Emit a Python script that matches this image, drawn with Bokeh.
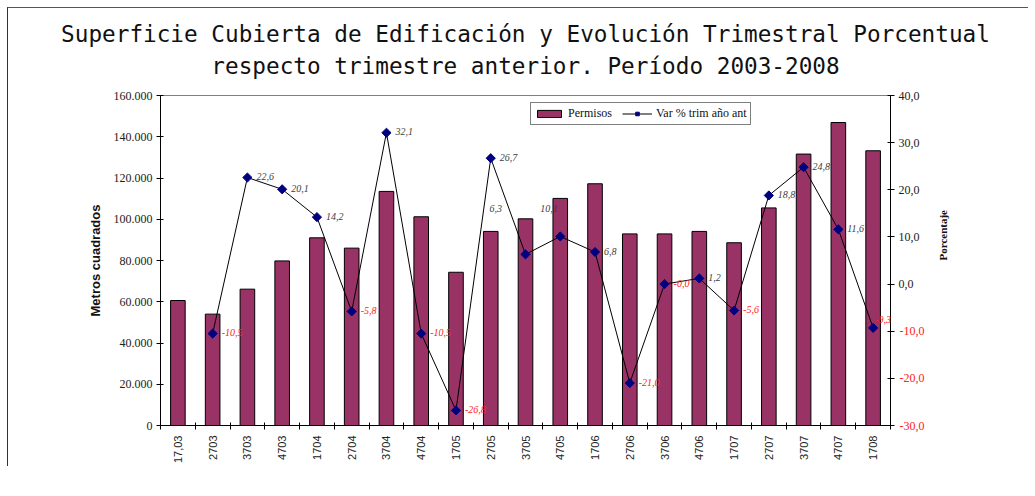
import math
from bokeh.plotting import figure
from bokeh.models import (Range1d, LinearAxis, FixedTicker, CustomJSTickFormatter,
                          ColumnDataSource, LabelSet, Legend, LegendItem, Title)
from bokeh.embed import file_html
from bokeh.resources import INLINE

# ---------------- data ----------------
categories = ["17,03", "2703", "3703", "4703", "1704", "2704", "3704", "4704",
              "1705", "2705", "3705", "4705", "1706", "2706", "3706", "4706",
              "1707", "2707", "3707", "4707", "1708"]
permisos = [60600, 54000, 66100, 79800, 91000, 86000, 113500, 101200, 74300, 94100,
            100200, 110100, 117200, 92900, 92900, 94100, 88600, 105500, 131600,
            146900, 133200]
var_pct = [None, -10.5, 22.6, 20.1, 14.2, -5.8, 32.1, -10.5, -26.8, 26.7, 6.3,
           10.1, 6.8, -21.0, -0.0, 1.2, -5.6, 18.8, 24.8, 11.6, -9.3]
var_labels = [None, "-10,5", "22,6", "20,1", "14,2", "-5,8", "32,1", "-10,5", "-26,8",
              "26,7", "6,3", "10,1", "6,8", "-21,0", "-0,0", "1,2", "-5,6", "18,8",
              "24,8", "11,6", "-9,3"]
left_ticks = [0, 20000, 40000, 60000, 80000, 100000, 120000, 140000, 160000]
left_tick_labels = ["0", "20.000", "40.000", "60.000", "80.000", "100.000",
                    "120.000", "140.000", "160.000"]
right_ticks = [-30, -20, -10, 0, 10, 20, 30, 40]
right_tick_labels = ["-30,0", "-20,0", "-10,0", "0,0", "10,0", "20,0", "30,0", "40,0"]

title_line1 = "Superficie Cubierta de Edificación y Evolución Trimestral Porcentual"
title_line2 = "respecto trimestre anterior. Período 2003-2008"

# label placement tweaks (screen px) for a few labels
label_shift = {10: (-36, 46), 11: (-20, 28), 20: (2, 8)}

BAR = "#993366"
NAVY = "#000080"
RED = "#FF2020"
SERIF = "Liberation Serif"
SANS = "Liberation Sans"

n = len(categories)
xs = [i + 0.5 for i in range(n)]

p = figure(frame_width=730, frame_height=330,
           min_border_left=152, min_border_right=138,
           min_border_top=87, min_border_bottom=40,
           x_range=Range1d(0, n), y_range=Range1d(0, 160000),
           output_backend="svg", toolbar_location=None)
p.extra_y_ranges = {"pct": Range1d(-30, 40)}
p.xgrid.visible = False
p.ygrid.visible = False
p.outline_line_color = "#808080"
p.background_fill_color = "white"
p.border_fill_color = "white"
p.styles = {"margin-left": "7px", "margin-top": "7px",
            "border-top": "1px solid #555555", "border-left": "1px solid #333333"}

# titles
t2 = Title(text=title_line2, align="center", text_font="DejaVu Sans Mono",
           text_font_size="22.7px", text_font_style="normal", text_color="#111111",
           standoff=33)
t1 = Title(text=title_line1, align="center", text_font="DejaVu Sans Mono",
           text_font_size="22.7px", text_font_style="normal", text_color="#111111",
           standoff=-25)
p.add_layout(t2, "above")
p.add_layout(t1, "above")

# bars
bar_src = ColumnDataSource(dict(x=xs, v=permisos))
bars = p.vbar(x="x", top="v", width=0.42, source=bar_src,
              fill_color=BAR, line_color="black", line_width=1)

# line
idx = [i for i in range(n) if var_pct[i] is not None]
line_src = ColumnDataSource(dict(
    x=[xs[i] for i in idx],
    y=[var_pct[i] for i in idx],
    t=[var_labels[i] for i in idx],
    c=[RED if var_labels[i].startswith("-") else "#404040" for i in idx],
    xo=[label_shift.get(i, (9, 1))[0] for i in idx],
    yo=[label_shift.get(i, (9, 1))[1] for i in idx],
))
line = p.line("x", "y", source=line_src, y_range_name="pct", line_color="black", line_width=1)
pts = p.scatter("x", "y", source=line_src, y_range_name="pct", marker="square",
                angle=math.pi / 4, size=6.5, fill_color=NAVY, line_color=NAVY)

labels = LabelSet(x="x", y="y", text="t", source=line_src, y_range_name="pct",
                  x_offset="xo", y_offset="yo", text_color="c",
                  text_font=SERIF, text_font_style="italic", text_font_size="10px",
                  text_align="left", text_baseline="middle")
p.add_layout(labels)

# x axis
xa = p.xaxis[0]
xa.axis_label = None
xa.ticker = FixedTicker(ticks=xs, minor_ticks=list(range(n + 1)))
xa.formatter = CustomJSTickFormatter(args=dict(cats=categories),
                                     code="const i = Math.floor(tick); return (i >= 0 && i < cats.length) ? cats[i] : '';")
xa.major_label_orientation = math.pi / 2
xa.major_tick_in = 0
xa.major_tick_out = 0
xa.minor_tick_in = 3
xa.minor_tick_out = 4
xa.minor_tick_line_color = "black"
xa.axis_line_color = "black"
xa.major_label_text_font = SANS
xa.major_label_text_font_size = "11px"
xa.major_label_text_color = "#222222"
xa.major_label_standoff = 6

# left axis
ya = p.yaxis[0]
ya.ticker = FixedTicker(ticks=left_ticks, minor_ticks=[])
ya.formatter = CustomJSTickFormatter(args=dict(t=left_ticks, l=left_tick_labels),
                                     code="const i = t.indexOf(tick); return i >= 0 ? l[i] : '';")
ya.major_tick_in = 3
ya.major_tick_out = 4
ya.major_tick_line_color = "black"
ya.axis_line_color = "black"
ya.major_label_text_font = SERIF
ya.major_label_text_font_size = "12px"
ya.major_label_text_color = "#222222"
ya.major_label_standoff = 4
ya.axis_label = "Metros cuadrados"
ya.axis_label_text_font = SANS
ya.axis_label_text_font_style = "bold"
ya.axis_label_text_font_size = "13px"
ya.axis_label_text_color = "#111111"
ya.axis_label_standoff = 8

# right axis 1 (inner): ticks + negative labels in red
neg_fmt = CustomJSTickFormatter(args=dict(t=right_ticks, l=right_tick_labels),
                                code="const i = t.indexOf(tick); return (i >= 0 && tick < 0) ? l[i] : '';")
pos_fmt = CustomJSTickFormatter(args=dict(t=right_ticks, l=right_tick_labels),
                                code="const i = t.indexOf(tick); return (i >= 0 && tick >= 0) ? l[i] : '';")
ra1 = LinearAxis(y_range_name="pct", ticker=FixedTicker(ticks=right_ticks, minor_ticks=[]),
                 formatter=neg_fmt)
ra1.major_tick_in = 3
ra1.major_tick_out = 4
ra1.major_tick_line_color = "black"
ra1.axis_line_color = "black"
ra1.major_label_text_font = SERIF
ra1.major_label_text_font_size = "12px"
ra1.major_label_text_color = RED
ra1.major_label_standoff = 5
p.add_layout(ra1, "right")

# right axis 2 (outer): positive labels in black, pulled back onto the same column
ra2 = LinearAxis(y_range_name="pct", ticker=FixedTicker(ticks=right_ticks, minor_ticks=[]),
                 formatter=pos_fmt)
ra2.major_tick_in = 0
ra2.major_tick_out = 0
ra2.axis_line_color = None
ra2.major_label_text_font = SERIF
ra2.major_label_text_font_size = "12px"
ra2.major_label_text_color = "#222222"
ra2.major_label_standoff = -29
ra2.axis_label = "Porcentaje"
ra2.axis_label_orientation = math.pi / 2
ra2.axis_label_text_font = SERIF
ra2.axis_label_text_font_style = "bold"
ra2.axis_label_text_font_size = "11px"
ra2.axis_label_text_color = "#111111"
ra2.axis_label_standoff = 20
p.add_layout(ra2, "right")

# legend (inside the plot area, in the empty band near the top)
legend = Legend(items=[LegendItem(label="Permisos", renderers=[bars]),
                       LegendItem(label="Var % trim año ant", renderers=[line, pts])],
                orientation="horizontal", location=(370, 300),
                label_text_font=SERIF, label_text_font_size="12px",
                label_text_color="#111111",
                glyph_width=30, glyph_height=9, label_standoff=4, spacing=10,
                padding=3, margin=0, border_line_color="black", border_line_width=1,
                label_height=12, background_fill_color="white", background_fill_alpha=1.0)
p.add_layout(legend)

open("out.html", "w").write(file_html(p, INLINE))
